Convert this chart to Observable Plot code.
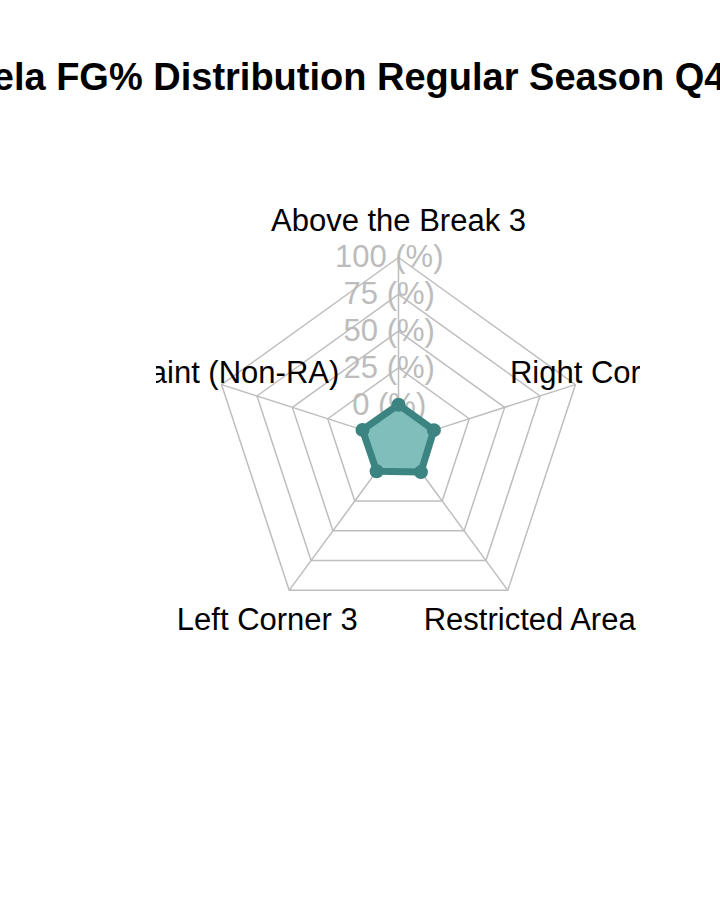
<!DOCTYPE html>
<html>
<head>
<meta charset="utf-8">
<script src="https://cdn.jsdelivr.net/npm/d3@7"></script>
<script src="https://cdn.jsdelivr.net/npm/@observablehq/plot@0.6"></script>
<style>
  html, body { margin: 0; padding: 0; background: #fff; overflow: hidden; }
  #wrap { position: relative; width: 720px; height: 921px; overflow: hidden; }
  #title { position: absolute; left: -174px; top: 57px; white-space: nowrap;
           font: bold 38px "Liberation Sans", Arial, sans-serif; color: #000; line-height: 40px; }
</style>
</head>
<body>
<div id="wrap">
  <div id="chart"></div>
  <div id="title">Clint Capela FG% Distribution Regular Season Q4</div>
</div>
<script>
// ---- data ----
const categories = ["Above the Break 3", "In The Paint (Non-RA)", "Left Corner 3", "Restricted Area", "Right Corner 3"];
const fgPct = [0, 0.45, 0, 0.68, 0];           // FG% values (plotted on a 0–100 axis)
const axisMin = 0;
const axisMax = 100;
const levels = [0, 25, 50, 75, 100];
const levelLabels = ["0 (%)", "25 (%)", "50 (%)", "75 (%)", "100 (%)"];

// ---- radar geometry (fmsb style: 0 level sits at 1/5 radius) ----
const seg = levels.length - 1;
const n = categories.length;
const ang = i => Math.PI / 2 + i * 2 * Math.PI / n;
const rad = v => (1 + (v - axisMin) / (axisMax - axisMin) * seg) / (seg + 1);

const rings = levels.flatMap(l => categories.map((c, i) => ({level: l, x: rad(l) * Math.cos(ang(i)), y: rad(l) * Math.sin(ang(i))})));
const spokes = categories.map((c, i) => ({
  x1: rad(axisMin) * Math.cos(ang(i)), y1: rad(axisMin) * Math.sin(ang(i)),
  x2: rad(axisMax) * Math.cos(ang(i)), y2: rad(axisMax) * Math.sin(ang(i))
}));
const pts = categories.map((c, i) => ({cat: c, x: rad(fgPct[i]) * Math.cos(ang(i)), y: rad(fgPct[i]) * Math.sin(ang(i))}));
const catLabels = categories.map((c, i) => ({label: c, x: 1.2 * Math.cos(ang(i)), y: 1.2 * Math.sin(ang(i))}));
const axLabels = levels.map((l, k) => ({label: levelLabels[k], x: -0.05, y: rad(l)}));

const gridCol = "#bebebe";
const chart = Plot.plot({
  width: 720,
  height: 921,
  marginLeft: 156,
  marginRight: 80,
  marginTop: 130,
  marginBottom: 221,
  x: {domain: [-242 / 186, 242 / 186], axis: null},
  y: {domain: [(441 - 700) / 184, (441 - 130) / 184], axis: null},
  style: {fontFamily: "'Liberation Sans', Arial, sans-serif", background: "white"},
  marks: [
    Plot.line(rings, {x: "x", y: "y", z: "level", curve: "linear-closed", stroke: gridCol, strokeWidth: 1.5}),
    Plot.link(spokes, {x1: "x1", y1: "y1", x2: "x2", y2: "y2", stroke: gridCol, strokeWidth: 1.5}),
    Plot.text(axLabels, {x: "x", y: "y", text: "label", fill: "#bcbcbc", fontSize: 31, textAnchor: "middle"}),
    Plot.line(pts, {x: "x", y: "y", curve: "linear-closed", fill: "#80bebb", fillOpacity: 1, stroke: "#3b8482", strokeWidth: 7, strokeLinejoin: "round"}),
    Plot.dot(pts, {x: "x", y: "y", r: 7, fill: "#3b8482", stroke: "none"}),
    Plot.text(catLabels, {x: "x", y: "y", text: "label", fill: "#000", fontSize: 31, textAnchor: "middle", clip: true})
  ]
});
document.getElementById("chart").appendChild(chart);
</script>
</body>
</html>
